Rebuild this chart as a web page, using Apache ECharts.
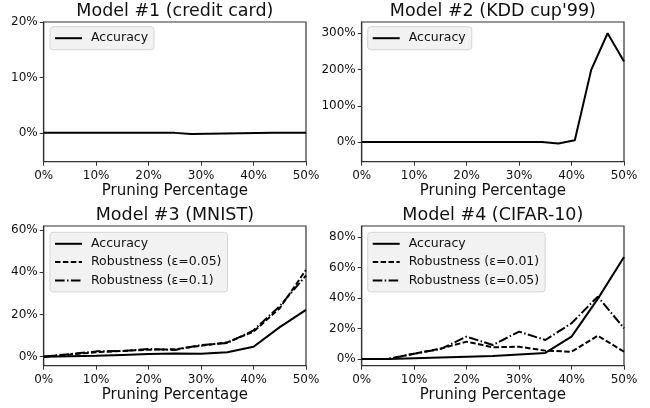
<!DOCTYPE html>
<html>
<head>
<meta charset="utf-8">
<script src="https://cdn.jsdelivr.net/npm/echarts@6/dist/echarts.min.js"></script>
<style>html,body{margin:0;padding:0;background:#fff}#c{width:650px;height:408px}</style>
</head>
<body>
<div id="c"></div>
<script>
// ---- data ----
const titles = ["Model #1 (credit card)", "Model #2 (KDD cup'99)", "Model #3 (MNIST)", "Model #4 (CIFAR-10)"];
const xLabel = "Pruning Percentage";
const xFine = [0, 3.125, 6.25, 9.375, 12.5, 15.625, 18.75, 21.875, 25, 28.125, 31.25, 34.375, 37.5, 40.625, 43.75, 46.875, 50];
const xCoarse = [0, 5, 10, 15, 20, 25, 30, 35, 40, 45, 50];
const acc1 = [0, 0, 0, 0, 0, 0, 0, 0, 0, -0.2, -0.15, -0.1, -0.05, -0.02, 0, 0, 0];
const acc2 = [0, 0, 0, 0, 0, 0, 0, 0, 0, 0, 0.5, 0.5, -4, 5, 199, 300, 222];
const acc3 = [0, 0.2, 0.4, 0.8, 1.2, 1.5, 1.4, 2.1, 4.7, 14, 22.2];
const rob3a = [0, 1, 2.1, 2.7, 3.3, 3.5, 5.2, 6.8, 11.9, 23, 41.2];
const rob3b = [0, 1.2, 2.5, 2.7, 3.6, 3.2, 5.5, 6.5, 12.5, 24, 38.5];
const acc4 = [0, 0, 0.5, 1, 1.5, 2, 3, 4, 14.7, 39.5, 67];
const rob4a = [0, 0, 3.5, 6.8, 11.4, 7.7, 8.1, 5.5, 4.8, 15.3, 4.8];
const rob4b = [0, 0, 3.5, 6.5, 14.7, 9.2, 18, 12.5, 23.5, 41, 20.2];
const yTicks1 = [0, 10, 20];
const yTicks2 = [0, 100, 200, 300];
const yTicks3 = [0, 20, 40, 60];
const yTicks4 = [0, 20, 40, 60, 80];
const xTicks = [0, 10, 20, 30, 40, 50];
const names3 = ["Accuracy", "Robustness (ε=0.05)", "Robustness (ε=0.1)"];
const names4 = ["Accuracy", "Robustness (ε=0.01)", "Robustness (ε=0.05)"];

// ---- layout ----
const FONT = "DejaVu Sans";
const PW = 262.3, PH = 139.7;
const lefts = [43.7, 361.7, 43.7, 361.7];
const tops = [22, 22, 226, 226];
const yRanges = [[-5.2, 20], [-54, 331], [-4.3, 62], [-4.4, 87.4]];
const yTickSets = [yTicks1, yTicks2, yTicks3, yTicks4];
const SPINE = "#333";
const DASH = [5.5, 2.4];
const DASHDOT = [9.6, 2.4, 1.5, 2.4];

const grids = [], xAxes = [], yAxes = [], titleOpts = [], legends = [];
for (let i = 0; i < 4; i++) {
  grids.push({left: lefts[i], top: tops[i], width: PW, height: PH, show: true,
    borderColor: SPINE, borderWidth: 1.2, backgroundColor: "transparent", containLabel: false});
  xAxes.push({type: "value", gridIndex: i, min: 0, max: 50, interval: 10,
    name: xLabel, nameLocation: "middle", nameGap: 22,
    nameTextStyle: {fontFamily: FONT, fontSize: 15, color: "#111"},
    axisLine: {show: true, onZero: false, lineStyle: {color: SPINE, width: 1.2}},
    axisTick: {show: true, length: 4, lineStyle: {color: SPINE, width: 1}},
    axisLabel: {fontFamily: FONT, fontSize: 12, color: "#111", margin: 8, formatter: v => v + "%"},
    splitLine: {show: false}});
  yAxes.push({type: "value", gridIndex: i, min: yRanges[i][0], max: yRanges[i][1],
    axisLine: {show: true, onZero: false, lineStyle: {color: SPINE, width: 1.2}},
    axisTick: {show: true, length: 4, customValues: yTickSets[i], lineStyle: {color: SPINE, width: 1}},
    axisLabel: {fontFamily: FONT, fontSize: 12, color: "#111", margin: 6, customValues: yTickSets[i], formatter: v => v + "%"},
    splitLine: {show: false}});
  titleOpts.push({text: titles[i], left: lefts[i] + PW / 2, top: tops[i] === 22 ? 2.5 : 206, textAlign: "center", padding: 0,
    textStyle: {fontFamily: FONT, fontSize: 17.5, fontWeight: "normal", color: "#111"}});
}

function ser(name, gi, xs, ys, dash) {
  return {name: name, type: "line", xAxisIndex: gi, yAxisIndex: gi, symbol: "none", showSymbol: false,
    data: xs.map((x, k) => [x, ys[k]]), lineStyle: {color: "#000", width: 2, type: dash || "solid"},
    itemStyle: {color: "#000", opacity: 0}, emphasis: {disabled: true}, silent: true};
}
const series = [
  ser("p1|Accuracy", 0, xFine, acc1),
  ser("p2|Accuracy", 1, xFine, acc2),
  ser("p3|" + names3[0], 2, xCoarse, acc3),
  ser("p3|" + names3[1], 2, xCoarse, rob3a, DASH),
  ser("p3|" + names3[2], 2, xCoarse, rob3b, DASHDOT),
  ser("p4|" + names4[0], 3, xCoarse, acc4),
  ser("p4|" + names4[1], 3, xCoarse, rob4a, DASH),
  ser("p4|" + names4[2], 3, xCoarse, rob4b, DASHDOT)
];

const legendData = [["p1|Accuracy"], ["p2|Accuracy"], names3.map(n => "p3|" + n), names4.map(n => "p4|" + n)];
const legLeft = [50, 367.7, 50, 367.7];
const legTop = [26.7, 26.7, 232.3, 232.3];
for (let i = 0; i < 4; i++) {
  legends.push({data: legendData[i], left: legLeft[i], top: legTop[i], orient: "vertical",
    itemWidth: 27, itemHeight: 14, itemGap: 4.3, padding: [4.5, 6, 4.5, 4],
    backgroundColor: "#f2f2f2", borderColor: "#d6d6d6", borderWidth: 1, borderRadius: 3,
    selectedMode: false, formatter: n => n.split("|")[1],
    itemStyle: {opacity: 0, color: "transparent", borderWidth: 0},
    lineStyle: {width: 2, opacity: 1},
    textStyle: {fontFamily: FONT, fontSize: 12.5, color: "#111", padding: [0, 0, 0, 4], lineHeight: 14}});
}

const chart = echarts.init(document.getElementById("c"), null, {renderer: "canvas"});
chart.setOption({
  animation: false,
  textStyle: {fontFamily: FONT},
  title: titleOpts,
  legend: legends,
  grid: grids,
  xAxis: xAxes,
  yAxis: yAxes,
  series: series
});
</script>
</body>
</html>
